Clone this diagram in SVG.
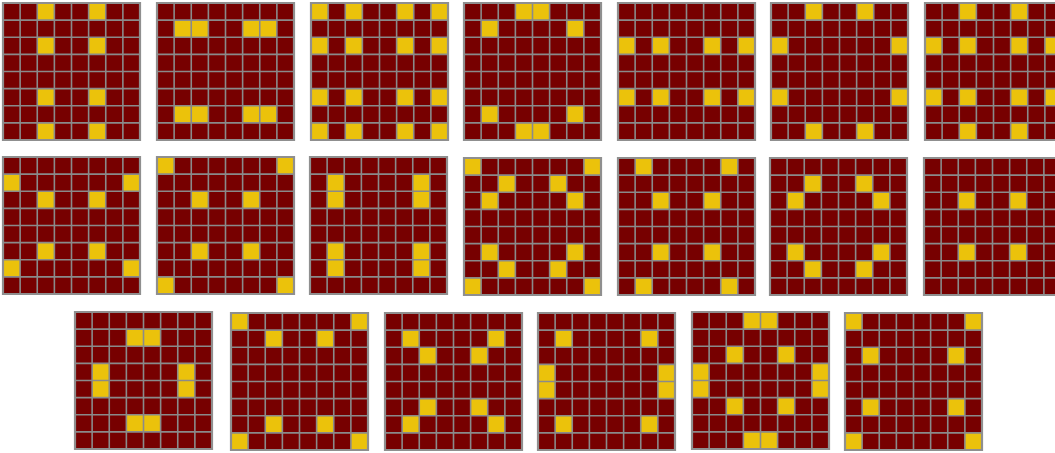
<svg xmlns="http://www.w3.org/2000/svg" xmlns:xlink="http://www.w3.org/1999/xlink" width="1055" height="453" viewBox="0 0 1055 453">
<style>
.bg{fill:#770000}
.y{fill:#ebc20b}
.gl{fill:none;stroke:#8a8a8a;stroke-width:1.6}
.bd{fill:none;stroke:#8f8f8f;stroke-width:2.2}
</style>
<defs>
<g id="grid">
<path class="gl" vector-effect="non-scaling-stroke" d="M0 1H8M0 2H8M0 3H8M0 4H8M0 5H8M0 6H8M0 7H8M1 0V8M2 0V8M3 0V8M4 0V8M5 0V8M6 0V8M7 0V8"/>
<rect class="bd" vector-effect="non-scaling-stroke" width="8" height="8"/>
</g>
</defs>
<rect width="1055" height="453" fill="#ffffff"/>
<!-- Row 1 -->
<g id="b1" transform="translate(3,3) scale(17.125)"><rect class="bg" width="8" height="8"/>
<rect class="y" x="2" y="0" width="1" height="1"/><rect class="y" x="5" y="0" width="1" height="1"/><rect class="y" x="2" y="2" width="1" height="1"/><rect class="y" x="5" y="2" width="1" height="1"/><rect class="y" x="2" y="5" width="1" height="1"/><rect class="y" x="5" y="5" width="1" height="1"/><rect class="y" x="2" y="7" width="1" height="1"/><rect class="y" x="5" y="7" width="1" height="1"/>
<use xlink:href="#grid"/></g>
<g id="b2" transform="translate(157,3) scale(17.125)"><rect class="bg" width="8" height="8"/>
<rect class="y" x="1" y="1" width="1" height="1"/><rect class="y" x="2" y="1" width="1" height="1"/><rect class="y" x="5" y="1" width="1" height="1"/><rect class="y" x="6" y="1" width="1" height="1"/><rect class="y" x="1" y="6" width="1" height="1"/><rect class="y" x="2" y="6" width="1" height="1"/><rect class="y" x="5" y="6" width="1" height="1"/><rect class="y" x="6" y="6" width="1" height="1"/>
<use xlink:href="#grid"/></g>
<g id="b3" transform="translate(311,3) scale(17.125)"><rect class="bg" width="8" height="8"/>
<rect class="y" x="0" y="0" width="1" height="1"/><rect class="y" x="2" y="0" width="1" height="1"/><rect class="y" x="5" y="0" width="1" height="1"/><rect class="y" x="7" y="0" width="1" height="1"/>
<rect class="y" x="0" y="2" width="1" height="1"/><rect class="y" x="2" y="2" width="1" height="1"/><rect class="y" x="5" y="2" width="1" height="1"/><rect class="y" x="7" y="2" width="1" height="1"/>
<rect class="y" x="0" y="5" width="1" height="1"/><rect class="y" x="2" y="5" width="1" height="1"/><rect class="y" x="5" y="5" width="1" height="1"/><rect class="y" x="7" y="5" width="1" height="1"/>
<rect class="y" x="0" y="7" width="1" height="1"/><rect class="y" x="2" y="7" width="1" height="1"/><rect class="y" x="5" y="7" width="1" height="1"/><rect class="y" x="7" y="7" width="1" height="1"/>
<use xlink:href="#grid"/></g>
<g id="b4" transform="translate(464,3) scale(17.125)"><rect class="bg" width="8" height="8"/>
<rect class="y" x="3" y="0" width="1" height="1"/><rect class="y" x="4" y="0" width="1" height="1"/><rect class="y" x="1" y="1" width="1" height="1"/><rect class="y" x="6" y="1" width="1" height="1"/><rect class="y" x="1" y="6" width="1" height="1"/><rect class="y" x="6" y="6" width="1" height="1"/><rect class="y" x="3" y="7" width="1" height="1"/><rect class="y" x="4" y="7" width="1" height="1"/>
<use xlink:href="#grid"/></g>
<g id="b5" transform="translate(618,3) scale(17.125)"><rect class="bg" width="8" height="8"/>
<rect class="y" x="0" y="2" width="1" height="1"/><rect class="y" x="2" y="2" width="1" height="1"/><rect class="y" x="5" y="2" width="1" height="1"/><rect class="y" x="7" y="2" width="1" height="1"/>
<rect class="y" x="0" y="5" width="1" height="1"/><rect class="y" x="2" y="5" width="1" height="1"/><rect class="y" x="5" y="5" width="1" height="1"/><rect class="y" x="7" y="5" width="1" height="1"/>
<use xlink:href="#grid"/></g>
<g id="b6" transform="translate(771,3) scale(17.125)"><rect class="bg" width="8" height="8"/>
<rect class="y" x="2" y="0" width="1" height="1"/><rect class="y" x="5" y="0" width="1" height="1"/><rect class="y" x="0" y="2" width="1" height="1"/><rect class="y" x="7" y="2" width="1" height="1"/><rect class="y" x="0" y="5" width="1" height="1"/><rect class="y" x="7" y="5" width="1" height="1"/><rect class="y" x="2" y="7" width="1" height="1"/><rect class="y" x="5" y="7" width="1" height="1"/>
<use xlink:href="#grid"/></g>
<g id="b7" transform="translate(925,3) scale(17.125)"><rect class="bg" width="8" height="8"/>
<rect class="y" x="2" y="0" width="1" height="1"/><rect class="y" x="5" y="0" width="1" height="1"/>
<rect class="y" x="0" y="2" width="1" height="1"/><rect class="y" x="2" y="2" width="1" height="1"/><rect class="y" x="5" y="2" width="1" height="1"/><rect class="y" x="7" y="2" width="1" height="1"/>
<rect class="y" x="0" y="5" width="1" height="1"/><rect class="y" x="2" y="5" width="1" height="1"/><rect class="y" x="5" y="5" width="1" height="1"/><rect class="y" x="7" y="5" width="1" height="1"/>
<rect class="y" x="2" y="7" width="1" height="1"/><rect class="y" x="5" y="7" width="1" height="1"/>
<use xlink:href="#grid"/></g>
<!-- Row 2 -->
<g id="b8" transform="translate(3,157) scale(17.125)"><rect class="bg" width="8" height="8"/>
<rect class="y" x="0" y="1" width="1" height="1"/><rect class="y" x="7" y="1" width="1" height="1"/><rect class="y" x="2" y="2" width="1" height="1"/><rect class="y" x="5" y="2" width="1" height="1"/><rect class="y" x="2" y="5" width="1" height="1"/><rect class="y" x="5" y="5" width="1" height="1"/><rect class="y" x="0" y="6" width="1" height="1"/><rect class="y" x="7" y="6" width="1" height="1"/>
<use xlink:href="#grid"/></g>
<g id="b9" transform="translate(157,157) scale(17.125)"><rect class="bg" width="8" height="8"/>
<rect class="y" x="0" y="0" width="1" height="1"/><rect class="y" x="7" y="0" width="1" height="1"/><rect class="y" x="2" y="2" width="1" height="1"/><rect class="y" x="5" y="2" width="1" height="1"/><rect class="y" x="2" y="5" width="1" height="1"/><rect class="y" x="5" y="5" width="1" height="1"/><rect class="y" x="0" y="7" width="1" height="1"/><rect class="y" x="7" y="7" width="1" height="1"/>
<use xlink:href="#grid"/></g>
<g id="b10" transform="translate(310,157) scale(17.125)"><rect class="bg" width="8" height="8"/>
<rect class="y" x="1" y="1" width="1" height="1"/><rect class="y" x="6" y="1" width="1" height="1"/><rect class="y" x="1" y="2" width="1" height="1"/><rect class="y" x="6" y="2" width="1" height="1"/><rect class="y" x="1" y="5" width="1" height="1"/><rect class="y" x="6" y="5" width="1" height="1"/><rect class="y" x="1" y="6" width="1" height="1"/><rect class="y" x="6" y="6" width="1" height="1"/>
<use xlink:href="#grid"/></g>
<g id="b11" transform="translate(464,158) scale(17.125)"><rect class="bg" width="8" height="8"/>
<rect class="y" x="0" y="0" width="1" height="1"/><rect class="y" x="7" y="0" width="1" height="1"/><rect class="y" x="2" y="1" width="1" height="1"/><rect class="y" x="5" y="1" width="1" height="1"/><rect class="y" x="1" y="2" width="1" height="1"/><rect class="y" x="6" y="2" width="1" height="1"/>
<rect class="y" x="1" y="5" width="1" height="1"/><rect class="y" x="6" y="5" width="1" height="1"/><rect class="y" x="2" y="6" width="1" height="1"/><rect class="y" x="5" y="6" width="1" height="1"/><rect class="y" x="0" y="7" width="1" height="1"/><rect class="y" x="7" y="7" width="1" height="1"/>
<use xlink:href="#grid"/></g>
<g id="b12" transform="translate(618,158) scale(17.125)"><rect class="bg" width="8" height="8"/>
<rect class="y" x="1" y="0" width="1" height="1"/><rect class="y" x="6" y="0" width="1" height="1"/><rect class="y" x="2" y="2" width="1" height="1"/><rect class="y" x="5" y="2" width="1" height="1"/><rect class="y" x="2" y="5" width="1" height="1"/><rect class="y" x="5" y="5" width="1" height="1"/><rect class="y" x="1" y="7" width="1" height="1"/><rect class="y" x="6" y="7" width="1" height="1"/>
<use xlink:href="#grid"/></g>
<g id="b13" transform="translate(770,158) scale(17.125)"><rect class="bg" width="8" height="8"/>
<rect class="y" x="2" y="1" width="1" height="1"/><rect class="y" x="5" y="1" width="1" height="1"/><rect class="y" x="1" y="2" width="1" height="1"/><rect class="y" x="6" y="2" width="1" height="1"/><rect class="y" x="1" y="5" width="1" height="1"/><rect class="y" x="6" y="5" width="1" height="1"/><rect class="y" x="2" y="6" width="1" height="1"/><rect class="y" x="5" y="6" width="1" height="1"/>
<use xlink:href="#grid"/></g>
<g id="b14" transform="translate(924,158) scale(17.125)"><rect class="bg" width="8" height="8"/>
<rect class="y" x="2" y="2" width="1" height="1"/><rect class="y" x="5" y="2" width="1" height="1"/><rect class="y" x="2" y="5" width="1" height="1"/><rect class="y" x="5" y="5" width="1" height="1"/>
<use xlink:href="#grid"/></g>
<!-- Row 3 -->
<g id="b15" transform="translate(75,312) scale(17.125)"><rect class="bg" width="8" height="8"/>
<rect class="y" x="3" y="1" width="1" height="1"/><rect class="y" x="4" y="1" width="1" height="1"/><rect class="y" x="1" y="3" width="1" height="1"/><rect class="y" x="6" y="3" width="1" height="1"/><rect class="y" x="1" y="4" width="1" height="1"/><rect class="y" x="6" y="4" width="1" height="1"/><rect class="y" x="3" y="6" width="1" height="1"/><rect class="y" x="4" y="6" width="1" height="1"/>
<use xlink:href="#grid"/></g>
<g id="b16" transform="translate(231,313) scale(17.125)"><rect class="bg" width="8" height="8"/>
<rect class="y" x="0" y="0" width="1" height="1"/><rect class="y" x="7" y="0" width="1" height="1"/><rect class="y" x="2" y="1" width="1" height="1"/><rect class="y" x="5" y="1" width="1" height="1"/><rect class="y" x="2" y="6" width="1" height="1"/><rect class="y" x="5" y="6" width="1" height="1"/><rect class="y" x="0" y="7" width="1" height="1"/><rect class="y" x="7" y="7" width="1" height="1"/>
<use xlink:href="#grid"/></g>
<g id="b17" transform="translate(385,313) scale(17.125)"><rect class="bg" width="8" height="8"/>
<rect class="y" x="1" y="1" width="1" height="1"/><rect class="y" x="6" y="1" width="1" height="1"/><rect class="y" x="2" y="2" width="1" height="1"/><rect class="y" x="5" y="2" width="1" height="1"/><rect class="y" x="2" y="5" width="1" height="1"/><rect class="y" x="5" y="5" width="1" height="1"/><rect class="y" x="1" y="6" width="1" height="1"/><rect class="y" x="6" y="6" width="1" height="1"/>
<use xlink:href="#grid"/></g>
<g id="b18" transform="translate(538,313) scale(17.125)"><rect class="bg" width="8" height="8"/>
<rect class="y" x="1" y="1" width="1" height="1"/><rect class="y" x="6" y="1" width="1" height="1"/><rect class="y" x="0" y="3" width="1" height="1"/><rect class="y" x="7" y="3" width="1" height="1"/><rect class="y" x="0" y="4" width="1" height="1"/><rect class="y" x="7" y="4" width="1" height="1"/><rect class="y" x="1" y="6" width="1" height="1"/><rect class="y" x="6" y="6" width="1" height="1"/>
<use xlink:href="#grid"/></g>
<g id="b19" transform="translate(692,312) scale(17.125)"><rect class="bg" width="8" height="8"/>
<rect class="y" x="3" y="0" width="1" height="1"/><rect class="y" x="4" y="0" width="1" height="1"/><rect class="y" x="2" y="2" width="1" height="1"/><rect class="y" x="5" y="2" width="1" height="1"/><rect class="y" x="0" y="3" width="1" height="1"/><rect class="y" x="7" y="3" width="1" height="1"/>
<rect class="y" x="0" y="4" width="1" height="1"/><rect class="y" x="7" y="4" width="1" height="1"/><rect class="y" x="2" y="5" width="1" height="1"/><rect class="y" x="5" y="5" width="1" height="1"/><rect class="y" x="3" y="7" width="1" height="1"/><rect class="y" x="4" y="7" width="1" height="1"/>
<use xlink:href="#grid"/></g>
<g id="b20" transform="translate(845,313) scale(17.125)"><rect class="bg" width="8" height="8"/>
<rect class="y" x="0" y="0" width="1" height="1"/><rect class="y" x="7" y="0" width="1" height="1"/><rect class="y" x="1" y="2" width="1" height="1"/><rect class="y" x="6" y="2" width="1" height="1"/><rect class="y" x="1" y="5" width="1" height="1"/><rect class="y" x="6" y="5" width="1" height="1"/><rect class="y" x="0" y="7" width="1" height="1"/><rect class="y" x="7" y="7" width="1" height="1"/>
<use xlink:href="#grid"/></g>
</svg>
